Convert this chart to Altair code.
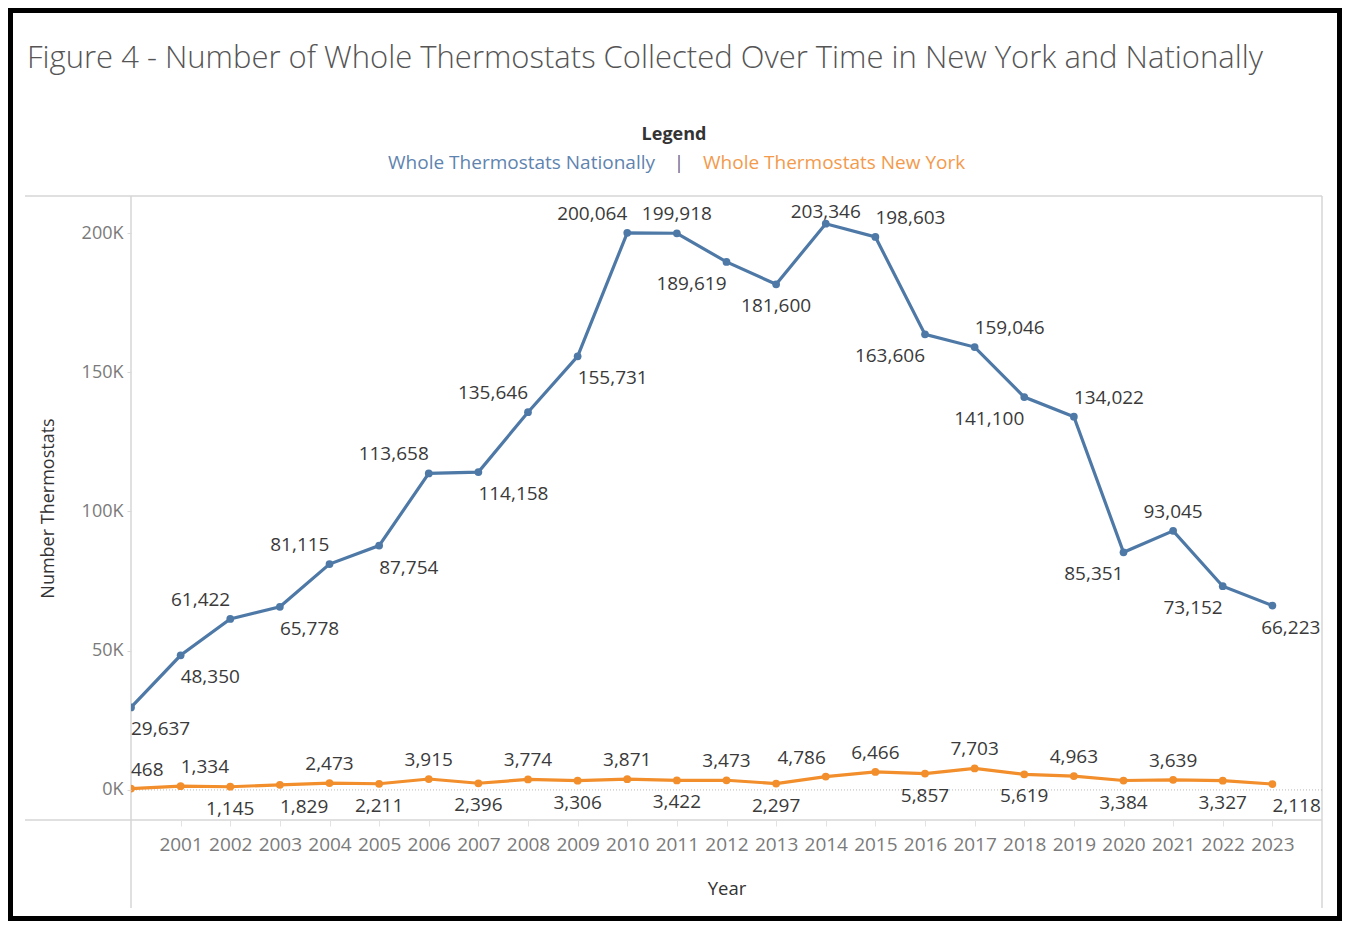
import altair as alt
import pandas as pd

# ---------------- data ----------------
years = list(range(2000, 2024))
national = [29637, 48350, 61422, 65778, 81115, 87754, 113658, 114158, 135646, 155731,
            200064, 199918, 189619, 181600, 203346, 198603, 163606, 159046, 141100,
            134022, 85351, 93045, 73152, 66223]
new_york = [468, 1334, 1145, 1829, 2473, 2211, 3915, 2396, 3774, 3306, 3871, 3422,
            3473, 2297, 4786, 6466, 5857, 7703, 5619, 4963, 3384, 3639, 3327, 2118]
series_names = ["Whole Thermostats Nationally", "Whole Thermostats New York"]
series_colors = ["#4e79a7", "#f28e2b"]
x_tick_years = list(range(2001, 2024))
y_ticks = [0, 50000, 100000, 150000, 200000]

# label placement codes (align: L/R/C/E, a=above, b=below, T=top-clamped)
national_label_pos = ["Lb", "Lb", "Ra", "Lb", "Ra", "Lb", "Ra", "Lb", "Ra", "Lb", "Ra", "Ca",
                      "Rb", "Cb", "Ta", "La", "Rb", "La", "Rb", "La", "Rb", "Ca", "Rb", "Eb"]
ny_label_pos = ["La", "La", "Cb", "Lb", "Ca", "Cb", "Ca", "Cb", "Ca", "Cb", "Ca", "Cb",
                "Ca", "Cb", "Ra", "Ca", "Cb", "Ca", "Cb", "Ca", "Cb", "Ca", "Cb", "Lb"]

title_text = "Figure 4 - Number of Whole Thermostats Collected Over Time in New York and Nationally"

df = pd.DataFrame({
    "year": years + years,
    "value": national + new_york,
    "series": [series_names[0]] * len(years) + [series_names[1]] * len(years),
    "pos": national_label_pos + ny_label_pos,
})
one = pd.DataFrame({"k": [0]})
zero_df = pd.DataFrame({"value": [0]})

W, H = 1191, 624
FONT = "Open Sans"

x_enc = alt.X(
    "year:Q",
    scale=alt.Scale(domain=[2000, 2024], nice=False, zero=False),
    axis=alt.Axis(
        values=x_tick_years, format="d", title="Year", grid=False, domain=False,
        ticks=True, tickColor="#e2e2e2", tickSize=6, labelFont=FONT, labelFontSize=19,
        labelColor="#7a7a7a", labelPadding=9, labelFlush=False, labelOverlap=False,
        titleFont=FONT, titleFontSize=18.5, titleColor="#333333", titleFontWeight="normal",
        titleX=W / 2, titleY=68, titleBaseline="middle", titleAlign="center", zindex=1,
    ),
)
y_enc = alt.Y(
    "value:Q",
    scale=alt.Scale(domain=[-10800, 213300], nice=False, zero=False),
    axis=alt.Axis(
        values=y_ticks, labelExpr="(datum.value/1000) + 'K'", title="Number Thermostats",
        grid=False, domain=False, tickColor="#d8d8d8", tickSize=4, labelPadding=4,
        labelFont=FONT, labelFontSize=18, labelColor="#7a7a7a",
        titleFont=FONT, titleFontSize=18, titleColor="#333333", titleFontWeight="normal",
        titleX=-83, titleY=H / 2, titleAngle=270, titleBaseline="middle", titleAlign="center",
        zindex=1,
    ),
)
color_enc = alt.Color("series:N", scale=alt.Scale(domain=series_names, range=series_colors), legend=None)

base = alt.Chart(df)

# frame and pane lines
frame = alt.Chart(one).mark_rect(fillOpacity=0, stroke="black", strokeWidth=5).encode(
    x=alt.value(-120.5), x2=alt.value(1208.5), y=alt.value(-185.5), y2=alt.value(722.5)
)
pane_lines = [
    alt.Chart(one).mark_rule(color="#d6d6d6", strokeWidth=1.5).encode(
        x=alt.value(-106), x2=alt.value(W), y=alt.value(0), y2=alt.value(0)),
    alt.Chart(one).mark_rule(color="#d6d6d6", strokeWidth=1.5).encode(
        x=alt.value(-106), x2=alt.value(W), y=alt.value(H), y2=alt.value(H)),
    alt.Chart(one).mark_rule(color="#d6d6d6", strokeWidth=1.5).encode(
        x=alt.value(0), x2=alt.value(0), y=alt.value(0), y2=alt.value(712)),
    alt.Chart(one).mark_rule(color="#d6d6d6", strokeWidth=1.5).encode(
        x=alt.value(W), x2=alt.value(W), y=alt.value(0), y2=alt.value(712)),
]
zero_line = alt.Chart(zero_df).mark_rule(color="#b8b8b8", strokeDash=[1, 2], strokeWidth=1).encode(y=y_enc)

lines = base.mark_line(strokeWidth=3.2, clip=True).encode(x=x_enc, y=y_enc, color=color_enc, detail="series:N")
points = base.mark_circle(size=60, opacity=1, clip=True).encode(x=x_enc, y=y_enc, color=color_enc)

pos_style = {
    "La": ("left", 0, -19), "Lb": ("left", 0, 22),
    "Ra": ("right", 0, -19), "Rb": ("right", 0, 22),
    "Ca": ("center", 0, -19), "Cb": ("center", 0, 22),
    "Ta": ("center", 0, -12), "Eb": ("right", 48, 22),
}
label_layers = []
for code, (al, dx, dy) in pos_style.items():
    label_layers.append(
        base.transform_filter(alt.datum.pos == code)
        .mark_text(align=al, dx=dx, dy=dy, baseline="middle", font=FONT, fontSize=19, color="#3a3a3a")
        .encode(x=x_enc, y=y_enc, text=alt.Text("value:Q", format=","))
    )

title = alt.Chart(one).mark_text(
    text=title_text, align="left", baseline="alphabetic", font=FONT, fontSize=31,
    fontWeight=300, color="#555555"
).encode(x=alt.value(-104), y=alt.value(-128))

legend_title = alt.Chart(one).mark_text(
    text="Legend", align="center", baseline="middle", font=FONT, fontSize=18,
    fontWeight="bold", color="#333333"
).encode(x=alt.value(543), y=alt.value(-61))
legend_nat = alt.Chart(one).mark_text(
    text=series_names[0], align="right", baseline="middle", font=FONT, fontSize=19,
    color="#5f84b0"
).encode(x=alt.value(524), y=alt.value(-33))
legend_sep = alt.Chart(one).mark_text(
    text="|", align="center", baseline="middle", font=FONT, fontSize=19, color="#6f5f86"
).encode(x=alt.value(548), y=alt.value(-33))
legend_ny = alt.Chart(one).mark_text(
    text=series_names[1], align="left", baseline="middle", font=FONT, fontSize=19,
    color="#f39a4c"
).encode(x=alt.value(572), y=alt.value(-33))

chart = alt.layer(
    frame, *pane_lines, zero_line, lines, points, *label_layers,
    title, legend_title, legend_nat, legend_sep, legend_ny,
).properties(
    width=W, height=H,
    autosize=alt.AutoSizeParams(type="none"),
    padding={"left": 123, "top": 188, "right": 20, "bottom": 101},
    background="white",
).configure_view(stroke="transparent")

chart.save("out.html", embed_options={"renderer": "svg", "actions": False})
